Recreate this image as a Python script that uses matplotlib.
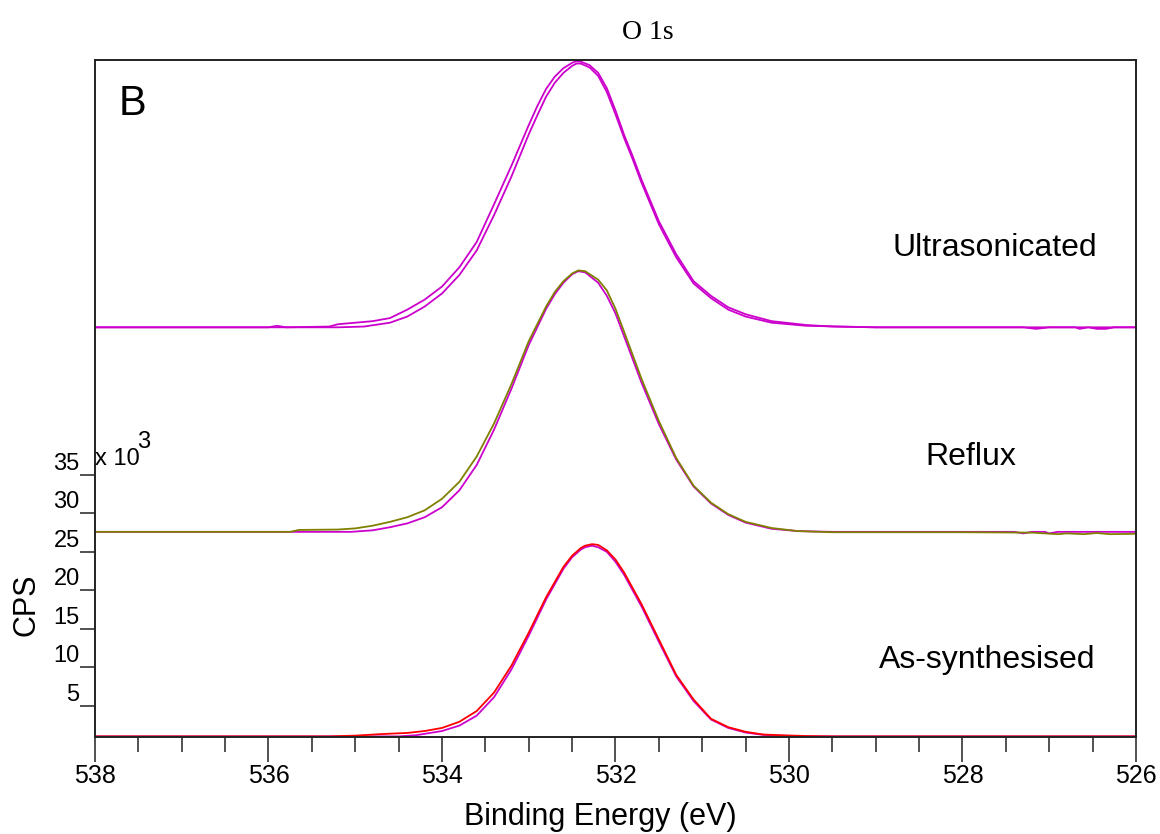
import matplotlib
matplotlib.use("Agg")
import matplotlib.pyplot as plt
from matplotlib.ticker import MultipleLocator

# ---- data (CPS in thousands) ----
be_ultra_a = [538.0, 536.0, 535.9, 535.8, 535.3, 535.2, 535.0, 534.8, 534.6, 534.4, 534.2, 534.0, 533.8, 533.6,
              533.4, 533.2, 533.0, 532.9, 532.8, 532.7, 532.6, 532.5, 532.45, 532.4, 532.3, 532.2, 532.1, 532.0,
              531.9, 531.8, 531.7, 531.5, 531.3, 531.1, 530.9,
              530.7, 530.5, 530.2, 529.8, 529.5, 529.0, 527.3, 527.15, 527.0, 526.7, 526.65, 526.55, 526.45,
              526.35, 526.25, 526.0]
cps_ultra_a = [54.2, 54.2, 54.4, 54.2, 54.3, 54.6, 54.8, 55.0, 55.4, 56.5, 57.8, 59.5, 62.0, 65.3,
               70.2, 75.2, 80.5, 83.0, 85.2, 86.8, 87.9, 88.6, 88.8, 88.75, 88.3, 87.3, 85.3, 82.4,
               79.2, 76.4, 73.4, 68.0, 63.7, 60.2, 58.3,
               56.8, 55.9, 55.0, 54.5, 54.3, 54.2, 54.2, 54.0, 54.2, 54.2, 54.0, 54.2, 54.0,
               54.0, 54.2, 54.2]

be_ultra_b = [538.0, 535.2, 534.9, 534.6, 534.4, 534.2, 534.0, 533.8, 533.6, 533.4, 533.2, 533.0, 532.9,
              532.8, 532.7, 532.6, 532.5, 532.45, 532.4, 532.3, 532.2, 532.1, 532.0, 531.9, 531.8, 531.7,
              531.5, 531.3, 531.1, 530.9, 530.7, 530.5, 530.2, 529.8, 529.0, 526.0]
cps_ultra_b = [54.2, 54.2, 54.3, 54.8, 55.6, 56.9, 58.6, 61.0, 64.2, 68.8, 73.8, 79.3, 81.8,
               84.2, 86.0, 87.3, 88.2, 88.5, 88.5, 88.0, 86.9, 84.8, 81.9, 78.8, 76.0, 73.0,
               67.6, 63.3, 59.9, 58.0, 56.5, 55.6, 54.8, 54.4, 54.2, 54.2]

be_reflux_a = [538.0, 535.75, 535.65, 535.2, 535.0, 534.8, 534.6, 534.4, 534.2, 534.0, 533.8, 533.6, 533.4,
               533.2, 533.0, 532.8, 532.7, 532.6, 532.5, 532.43, 532.35, 532.2, 532.1, 532.0, 531.9, 531.7,
               531.5, 531.3, 531.1, 530.9, 530.7, 530.5, 530.2, 529.9, 529.5, 528.0, 527.2, 526.9, 526.8,
               526.6, 526.45, 526.3, 526.0]
cps_reflux_a = [27.6, 27.6, 27.85, 27.9, 28.05, 28.4, 28.9, 29.5, 30.4, 31.9, 34.1, 37.4, 41.7,
                46.8, 52.4, 56.9, 58.8, 60.2, 61.2, 61.6, 61.5, 60.4, 59.0, 56.6, 53.6, 47.5,
                42.0, 37.2, 33.6, 31.4, 29.9, 28.9, 28.1, 27.7, 27.55, 27.55, 27.5, 27.3, 27.4,
                27.3, 27.45, 27.3, 27.35]

be_reflux_b = [538.0, 535.05, 534.8, 534.6, 534.4, 534.2, 534.0, 533.8, 533.6, 533.4, 533.2, 533.0, 532.8,
               532.7, 532.6, 532.5, 532.43, 532.35, 532.2, 532.1, 532.0, 531.9, 531.7, 531.5, 531.3, 531.1,
               530.9, 530.7, 530.5, 530.2, 529.9, 529.5, 527.4, 527.3, 527.2, 527.05, 527.0, 526.9, 526.0]
cps_reflux_b = [27.6, 27.6, 27.8, 28.2, 28.7, 29.5, 30.8, 33.0, 36.3, 40.9, 46.2, 51.9, 56.6,
                58.5, 60.0, 61.1, 61.5, 61.35, 60.0, 58.3, 56.0, 53.0, 47.0, 41.6, 37.0, 33.5,
                31.3, 29.8, 28.8, 28.0, 27.7, 27.6, 27.6, 27.4, 27.6, 27.6, 27.4, 27.6, 27.6]

be_assyn_a = [538.0, 535.3, 535.0, 534.7, 534.4, 534.2, 534.0, 533.8, 533.6, 533.4, 533.2, 533.0, 532.8,
              532.6, 532.5, 532.4, 532.35, 532.27, 532.2, 532.1, 532.0, 531.9, 531.7, 531.5, 531.3, 531.1,
              530.9, 530.7, 530.5, 530.3, 530.1, 529.8, 529.5, 526.0]
cps_assyn_a = [1.0, 1.0, 1.1, 1.3, 1.45, 1.7, 2.1, 2.9, 4.3, 6.7, 10.2, 14.5, 19.1,
               23.05, 24.5, 25.5, 25.8, 26.0, 25.9, 25.2, 24.0, 22.3, 18.2, 13.6, 9.0, 5.8,
               3.3, 2.2, 1.6, 1.25, 1.15, 1.05, 1.0, 1.0]

be_assyn_b = [538.0, 534.5, 534.3, 534.0, 533.8, 533.6, 533.4, 533.2, 533.0, 532.8, 532.6, 532.5, 532.4,
              532.35, 532.27, 532.2, 532.1, 532.0, 531.9, 531.7, 531.5, 531.3, 531.1, 530.9, 530.7, 530.5,
              530.3, 530.1, 529.8, 526.0]
cps_assyn_b = [1.0, 1.0, 1.15, 1.7, 2.4, 3.7, 6.1, 9.7, 14.1, 18.8, 22.8, 24.3, 25.3,
               25.6, 25.8, 25.6, 25.0, 23.7, 22.0, 17.9, 13.3, 8.8, 5.6, 3.2, 2.1, 1.5,
               1.2, 1.1, 1.0, 1.0]

x_ticks = [538, 536, 534, 532, 530, 528, 526]
y_ticks = [5, 10, 15, 20, 25, 30, 35]
y_tick_labels = ["5", "10", "15", "20", "25", "30", "35"]
sample_labels = ["Ultrasonicated", "Reflux", "As-synthesised"]

MAG = "#CC00CC"
OLIVE = "#808000"
RED = "#FF0000"

sans = ["Liberation Sans", "DejaVu Sans"]

fig = plt.figure(figsize=(11.6, 8.34), dpi=100)
ax = fig.add_axes([95 / 1160, 1 - 736.7 / 834, (1136 - 95) / 1160, (736.7 - 59.5) / 834])

lw = 1.3
ax.plot(be_ultra_b, cps_ultra_b, color=MAG, lw=lw)
ax.plot(be_ultra_a, cps_ultra_a, color=MAG, lw=lw)
ax.plot(be_reflux_b, cps_reflux_b, color=MAG, lw=lw)
ax.plot(be_reflux_a, cps_reflux_a, color=OLIVE, lw=lw)
ax.plot(be_assyn_b, cps_assyn_b, color=MAG, lw=lw)
ax.plot(be_assyn_a, cps_assyn_a, color=RED, lw=lw)

ax.set_xlim(538, 526)
ax.set_ylim(0.96, 89.03)

for s in ax.spines.values():
    s.set_linewidth(1.4)
    s.set_color("#222222")

ax.set_xticks(x_ticks)
ax.set_xticklabels([str(t) for t in x_ticks], fontsize=18, family=sans)
ax.xaxis.set_minor_locator(MultipleLocator(0.5))
ax.tick_params(axis="x", which="major", direction="out", length=18, width=1.1, pad=2, color="#222222")
ax.tick_params(axis="x", which="minor", direction="out", length=10.5, width=1.1, color="#222222")

ax.set_yticks(y_ticks)
ax.set_yticklabels(y_tick_labels, fontsize=17, family=sans, va="bottom")
ax.tick_params(axis="y", which="major", direction="out", length=11, width=1.1, pad=0, color="#222222")
ax.tick_params(axis="y", which="minor", left=False)

ax.set_xlabel("Binding Energy (eV)", fontsize=22, family=sans)
ax.xaxis.set_label_coords(0.485, -0.097)
ax.set_ylabel("CPS", fontsize=22, family=sans)
ax.yaxis.set_label_coords(-0.051, 0.1945)

# multiplier
ax.text(538.0, 36.3, "x 10", fontsize=17, family=sans, ha="left", va="baseline")
ax.text(537.52, 38.5, "3", fontsize=17, family=sans, ha="left", va="baseline")

# panel letter and title
ax.text(537.73, 81.8, "B", fontsize=30, family=sans, ha="left", va="baseline")
fig.text(648 / 1160, 1 - 39 / 834, "O 1s", fontsize=20, family=["Liberation Serif", "DejaVu Serif"],
         ha="center", va="baseline")

# sample labels
ax.text(527.63, 63.5, sample_labels[0], fontsize=23, family=sans, ha="center", va="baseline")
ax.text(527.90, 36.3, sample_labels[1], fontsize=23, family=sans, ha="center", va="baseline")
ax.text(527.71, 9.9, sample_labels[2], fontsize=23, family=sans, ha="center", va="baseline")

fig.savefig("out.png", dpi=100)
